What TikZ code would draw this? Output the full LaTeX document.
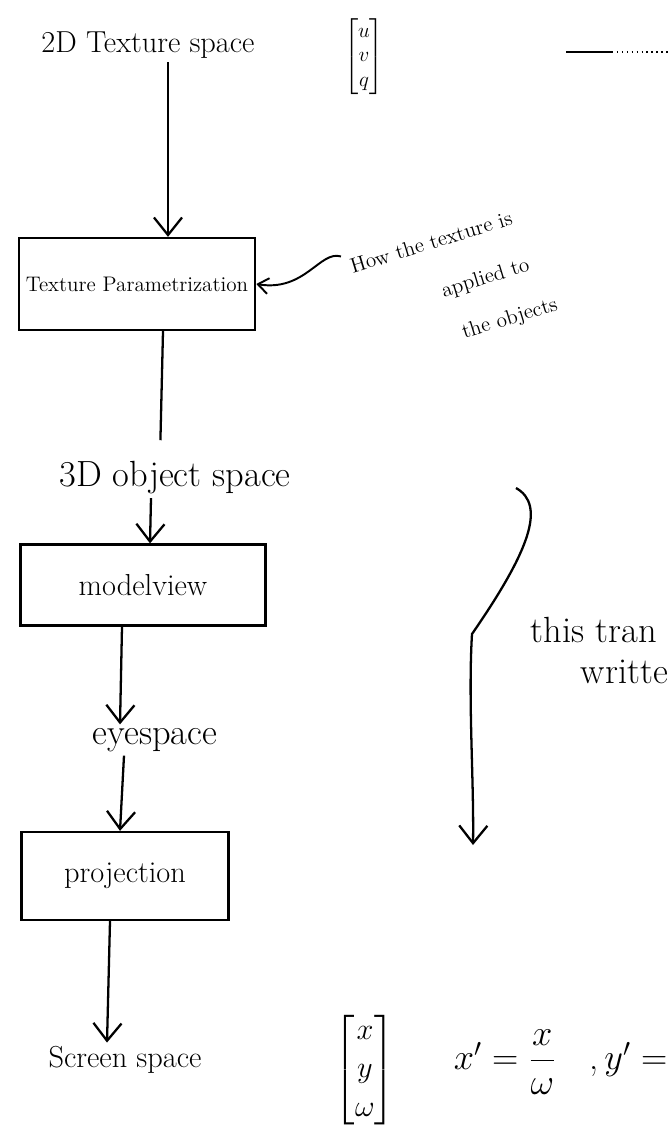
\documentclass[tikz,border=0pt]{standalone}
\usepackage{amsmath}
\usepackage{tikz}
\usetikzlibrary{positioning,arrows.meta}
\tikzset{
  spacelbl/.style={font=\LARGE, inner sep=2pt},
  stagebox/.style={draw, line width=1.3pt, inner sep=4pt},
  mtxnode/.style={font=\Large, inner sep=1pt},
  notetxt/.style={font=\large, rotate=17, inner sep=1pt, align=left},
  flowarrow/.style={-{Straight Barb[length=10pt,width=16pt]}, line width=1.3pt},
  flowline/.style={line width=1.3pt},
  notearrow/.style={-{Straight Barb[length=6pt,width=9pt]}, line width=1.1pt, shorten <=3pt},
}

\begin{document}
\begin{tikzpicture}[x=0.02cm, y=-0.02cm]
\useasboundingbox (0,0) rectangle (670,1135);

%% Texture space
\node[spacelbl, font=\LARGE] (tex) at (148,45) {2D Texture space};
\node[mtxnode, font=\large] (uvq) at (364,57) {$\begin{bmatrix} u\\ v\\ q \end{bmatrix}$};
\coordinate (lnA) at (566,52);
\coordinate (lnB) at (612,52);
\coordinate (lnC) at (670,52);
\draw[line width=0.8pt] (lnA) -- (lnB);
\draw[dotted, line width=0.8pt] (lnB) -- (lnC);

%% Parametrization
\node[stagebox, minimum width=4.7cm, minimum height=1.84cm, font=\large] (param) at (137,284) {Texture Parametrization};
\draw[flowarrow] (tex.south -| 168,0) -- (param.north -| 168,0);

%% Annotation
\node[notetxt, anchor=north west] (note) at (346,258)
  {How the texture is\\[14pt]\hspace*{1.6cm}applied to\\[12pt]\hspace*{1.75cm}the objects};
\draw[notearrow] (note.north west) .. controls (320,250) and (305,292) .. (param.east);

%% Object space
\node[spacelbl, font=\huge] (obj) at (175,478) {3D object space};
\draw[flowline, shorten >=10pt] (param.south -| 163,0) -- (obj.north -| 160,0);

%% Modelview
\node[stagebox, minimum width=4.9cm, minimum height=1.62cm, font=\LARGE] (mv) at (143,585) {modelview};
\draw[flowarrow] (obj.south -| 151,0) -- (mv.north -| 150,0);

%% Eye space
\node[spacelbl, font=\huge] (eye) at (155,740) {eyespace};
\draw[flowarrow] (mv.south -| 122,0) -- (eye.north -| 120,0);

%% Projection
\node[stagebox, minimum width=4.14cm, minimum height=1.76cm, font=\LARGE] (proj) at (125,876) {projection};
\draw[flowarrow] (eye.south -| 124,0) -- (proj.north -| 120,0);

%% Screen space
\node[spacelbl, font=\LARGE] (scr) at (125,1060) {Screen space};
\node[mtxnode, font=\LARGE] (xyw) at (365,1070) {$\begin{bmatrix} x\\ y\\ \omega \end{bmatrix}$};
\node[spacelbl, font=\huge, anchor=west] (eqn) at (450,1062) {$x'=\dfrac{x}{\omega}$\ \ \ ,\,$y'=$};
\draw[flowarrow] (proj.south -| 110,0) -- (scr.north -| 107,0);

%% Side note
\coordinate (cvA) at (516,488);
\coordinate (cvB) at (472,634);
\coordinate (cvC) at (473,845);
\draw[flowarrow] (cvA) .. controls (546,505) and (530,550) .. (cvB)
  .. controls (468,700) and (474,780) .. (cvC);
\node[spacelbl, font=\huge, anchor=west] (side1) at (527,630) {this tran};
\node[spacelbl, font=\huge, anchor=west] (side2) at (577,672) {writte};
\end{tikzpicture}
\end{document}
